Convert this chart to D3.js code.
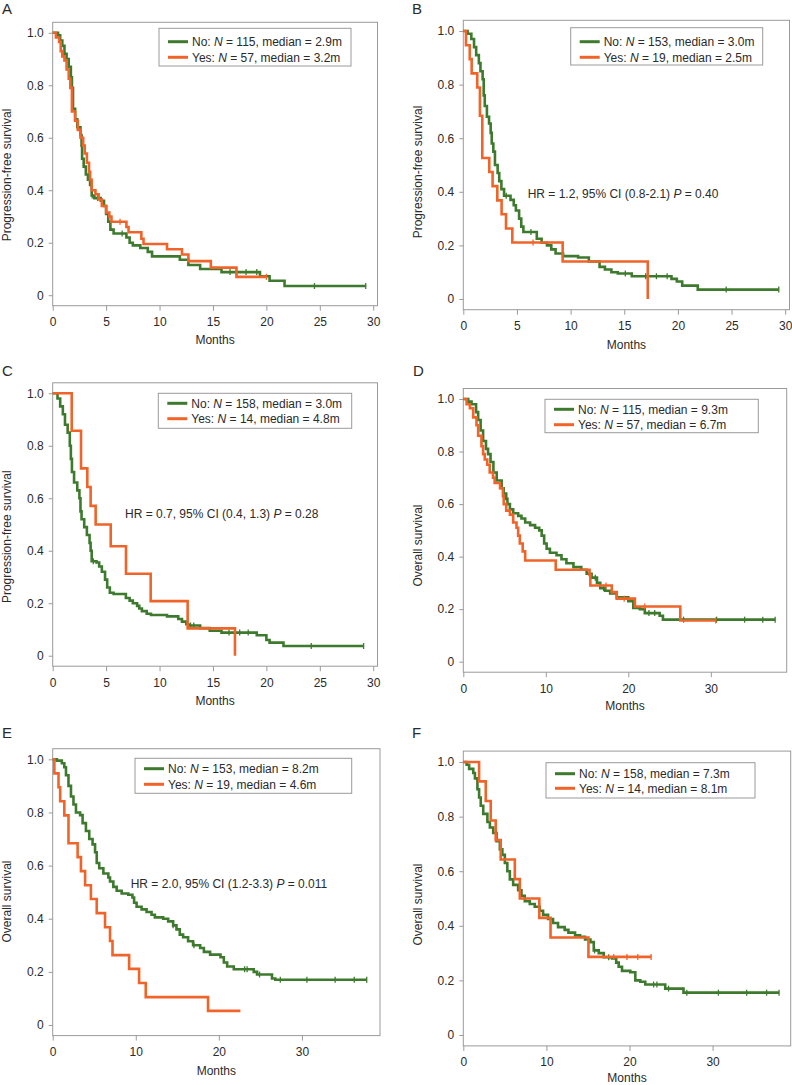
<!DOCTYPE html>
<html><head><meta charset="utf-8">
<script src="https://cdn.jsdelivr.net/npm/d3@7"></script>
<style>
body{margin:0;background:#fff}
svg{display:block}
text{font-family:"Liberation Sans",Arial,Helvetica,sans-serif;fill:#2a2a2a}
</style>
</head><body>
<svg id="chart" width="792" height="1085"></svg>
<script>
// ---------------- DATA ----------------
const panelIds = ["A","B","C","D","E","F"];
const yLabels = ["Progression-free survival","Progression-free survival","Progression-free survival","Overall survival","Overall survival","Overall survival"];
const yTickValues = [0,0.2,0.4,0.6,0.8,1.0];
const yTickLabels = ["0","0.2","0.4","0.6","0.8","1.0"];
const xTicksPFS = [0,5,10,15,20,25,30];
const xTicksOS = [0,10,20,30];
const xTitle = "Months";
const groupNames = ["No","Yes"];
const nNo = [115,153,158,115,153,158];
const nYes = [57,19,14,57,19,14];
const medNo = ["2.9","3.0","3.0","9.3","8.2","7.3"];
const medYes = ["3.2","2.5","4.8","6.7","4.6","8.1"];
const hrB = ["HR = 1.2, 95% CI (0.8-2.1) ","P"," = 0.40"];
const hrC = ["HR = 0.7, 95% CI (0.4, 1.3) ","P"," = 0.28"];
const hrE = ["HR = 2.0, 95% CI (1.2-3.3) ","P"," = 0.011"];

// Panel A
const aNoT = [0,0.5,0.7,0.9,1.1,1.3,1.5,1.7,1.8,1.9,2.1,2.3,2.6,2.7,2.75,2.9,3.1,3.3,3.5,3.65,3.9,4.5,4.8,5.0,5.2,5.4,5.7,6.9,7.2,7.5,8.2,8.9,9.3,11.9,12.7,13.8,15.8,19.4,20.3,21.7,29.3];
const aNoS = [1,0.99,0.97,0.95,0.92,0.9,0.87,0.83,0.79,0.71,0.67,0.64,0.61,0.57,0.52,0.49,0.46,0.44,0.42,0.38,0.37,0.36,0.34,0.31,0.28,0.25,0.235,0.22,0.2,0.19,0.18,0.165,0.148,0.135,0.115,0.1,0.088,0.072,0.055,0.035,0.035];
const aNoCens = [3.7,4.2,6.5,16.6,17.2,18.1,19.1,24.5,29.3];
const aYesT = [0,0.3,0.6,0.75,0.9,1.1,1.3,1.5,1.65,1.8,2.1,2.35,2.6,2.85,3.0,3.2,3.4,3.5,3.65,4.0,4.3,4.6,5.0,5.3,5.5,6.9,7.1,8.3,8.5,10.7,12.1,12.7,14.8,17.2,20.0];
const aYesS = [1,0.982,0.965,0.93,0.91,0.895,0.86,0.825,0.79,0.7,0.665,0.63,0.6,0.57,0.54,0.505,0.47,0.44,0.4,0.385,0.365,0.34,0.315,0.3,0.28,0.26,0.24,0.215,0.195,0.175,0.155,0.13,0.105,0.07,0.07];
const aYesCens = [6.3,20.0];

// Panel B
const bNoT = [0,0.4,0.75,1.0,1.2,1.45,1.6,1.8,1.9,2.0,2.2,2.4,2.55,2.65,2.8,2.95,3.2,3.35,3.55,3.8,4.4,4.7,4.9,5.2,5.4,5.6,6.85,7.3,7.8,8.2,8.6,9.3,10.7,11.7,12.7,13.2,13.8,14.4,15.7,19.4,19.9,20.4,21.85,29.4];
const bNoS = [1,0.99,0.97,0.94,0.91,0.88,0.85,0.82,0.76,0.72,0.68,0.655,0.62,0.58,0.55,0.5,0.47,0.44,0.41,0.385,0.37,0.35,0.33,0.3,0.27,0.25,0.225,0.21,0.2,0.185,0.17,0.16,0.155,0.14,0.12,0.11,0.1,0.095,0.085,0.075,0.065,0.05,0.035,0.035];
const bNoCens = [4.0,6.3,15.1,17.0,18.0,19.0,24.5,29.4];
const bYesT = [0,0.25,0.6,0.78,1.3,1.55,1.77,2.42,2.73,3.17,3.57,3.98,4.57,9.26,17.19];
const bYesS = [1,0.947,0.895,0.842,0.789,0.684,0.526,0.474,0.421,0.368,0.316,0.263,0.211,0.14,0];
const bYesCens = [6.5];

// Panel C
const cNoT = [0,0.45,0.7,0.95,1.15,1.4,1.6,1.7,1.8,2.0,2.3,2.5,2.6,2.7,2.95,3.2,3.45,3.55,3.65,4.1,4.35,4.6,4.9,5.1,5.35,5.7,6.85,7.2,7.5,7.9,8.1,8.35,8.8,9.2,10.7,11.75,12.1,12.5,12.7,13.8,14.7,15.8,19.1,20.0,20.3,21.6,29.1];
const cNoS = [1,0.98,0.95,0.92,0.88,0.85,0.8,0.75,0.7,0.66,0.63,0.6,0.55,0.52,0.49,0.46,0.43,0.4,0.36,0.355,0.34,0.32,0.29,0.26,0.24,0.235,0.22,0.21,0.2,0.19,0.18,0.17,0.16,0.155,0.15,0.14,0.13,0.12,0.115,0.105,0.095,0.088,0.078,0.06,0.05,0.037,0.037];
const cNoCens = [3.8,12.9,13.2,16.5,17.5,18.3,24.2,29.1];
const cYesT = [0,1.78,2.65,3.24,3.55,4.02,5.43,6.86,9.17,12.63,17.06];
const cYesS = [1,0.857,0.714,0.643,0.571,0.5,0.417,0.3125,0.208,0.104,0];
const cYesCens = [];

// Panel D
const dNoT = [0,0.6,1.0,1.55,1.8,2.1,2.4,2.75,3.0,3.3,3.65,4.05,4.65,4.9,5.2,5.35,5.65,6.05,6.65,7.05,7.5,8.1,8.7,9.2,9.5,9.8,10.1,10.5,11.3,11.9,12.5,13.35,14.3,14.95,15.55,16.2,16.6,17.2,17.8,18.6,20.0,20.6,21.4,22.0,23.8,24.2,37.8];
const dNoS = [1,0.99,0.98,0.95,0.92,0.88,0.84,0.81,0.79,0.76,0.72,0.69,0.66,0.64,0.62,0.6,0.58,0.565,0.555,0.545,0.53,0.52,0.51,0.5,0.48,0.45,0.43,0.415,0.405,0.39,0.375,0.36,0.35,0.335,0.32,0.3,0.28,0.27,0.26,0.245,0.23,0.205,0.2,0.185,0.175,0.16,0.16];
const dNoCens = [16.0,17.0,22.5,23.2,26.7,30.7,34.1,36.3,37.8];
const dYesT = [0,0.4,0.8,1.2,1.6,1.8,2.2,2.4,2.6,2.9,3.2,3.6,3.8,4.45,4.8,4.9,5.2,5.65,6.05,6.45,6.65,6.85,7.2,7.5,11.2,15.3,15.4,18.0,18.6,20.8,26.3,30.6];
const dYesS = [1,0.98,0.965,0.93,0.9,0.86,0.82,0.79,0.77,0.75,0.72,0.7,0.68,0.66,0.63,0.6,0.575,0.56,0.53,0.51,0.48,0.45,0.42,0.385,0.35,0.33,0.29,0.265,0.24,0.21,0.157,0.157];
const dYesCens = [17.3,19.5,22.0,30.6];

// Panel E
const eNoT = [0,0.5,1.1,1.4,1.6,1.9,2.2,2.5,2.8,3.3,3.6,4.0,4.4,4.8,5.1,5.3,5.6,6.1,6.7,6.9,7.3,7.7,8.3,9.1,9.6,9.8,10.1,10.7,11.3,11.9,12.3,13.3,13.9,14.5,14.9,15.3,15.7,16.3,16.9,17.75,18.2,18.95,20.2,20.6,21.0,21.8,24.2,24.6,26.4,26.8,37.8];
const eNoS = [1,0.995,0.985,0.97,0.94,0.9,0.86,0.83,0.8,0.79,0.76,0.73,0.7,0.68,0.65,0.61,0.59,0.57,0.555,0.54,0.52,0.505,0.495,0.49,0.48,0.46,0.445,0.435,0.425,0.415,0.405,0.4,0.39,0.375,0.36,0.34,0.33,0.315,0.3,0.29,0.275,0.265,0.255,0.235,0.22,0.21,0.2,0.19,0.175,0.17,0.17];
const eNoCens = [14.5,17.0,23.1,23.4,24.9,27.4,30.6,34.0,36.3,37.8];
const eYesT = [0,0.2,0.7,0.9,1.4,1.9,3.0,3.4,3.9,4.6,5.3,6.3,6.9,7.2,9.2,10.4,11.2,18.7,22.6];
const eYesS = [1,0.947,0.895,0.842,0.789,0.684,0.632,0.579,0.526,0.474,0.421,0.368,0.316,0.263,0.211,0.158,0.105,0.053,0.053];
const eYesCens = [];

// Panel F
const fNoT = [0,0.4,0.7,1.2,1.4,1.7,1.9,2.1,2.4,2.9,3.2,3.6,4.0,4.4,4.7,5.0,5.3,5.6,6.0,6.6,7.0,7.4,8.0,8.6,9.2,9.6,10.2,10.8,11.4,12.2,12.65,13.45,14.05,14.65,15.3,15.7,16.3,16.9,17.9,18.4,18.7,19.1,20.1,20.7,21.3,21.9,24.3,26.5,38.0];
const fNoS = [1,0.99,0.975,0.96,0.94,0.9,0.87,0.84,0.81,0.78,0.76,0.74,0.71,0.68,0.66,0.63,0.6,0.57,0.55,0.53,0.51,0.49,0.48,0.47,0.455,0.44,0.425,0.41,0.395,0.385,0.375,0.365,0.36,0.35,0.34,0.31,0.3,0.285,0.28,0.265,0.25,0.235,0.23,0.2,0.195,0.185,0.17,0.155,0.155];
const fNoCens = [15.8,17.5,22.9,23.3,24.7,26.9,30.7,34.1,36.5,38.0];
const fYesT = [0,1.9,2.7,3.3,3.9,4.5,6.2,6.8,9.15,10.5,15.06,22.6];
const fYesS = [1,0.929,0.857,0.786,0.714,0.643,0.571,0.5,0.429,0.357,0.286,0.286];
const fYesCens = [18.1,19.7,21.0,22.6];

// ---------------- LAYOUT ----------------
const layout = [
  {left:52.7, top:22.3, right:377.5, bottom:305.7, xMax:30.4, ticks:xTicksPFS, lx:2, ly:13.5, ylx:7, yly:175, mty:344,
   leg:{x:159,y:28.3,w:192,h:37.7,r1:13.4,r2:29}, hr:null},
  {left:463.3, top:20.3, right:789.5, bottom:309.7, xMax:30.4, ticks:xTicksPFS, lx:412, ly:13.5, ylx:418, yly:172, mty:349,
   leg:{x:570.7,y:27.7,w:192,h:37.3,r1:14,r2:29.6}, hr:{x:527.7,y:197.5,t:hrB}},
  {left:52.7, top:382.8, right:377.5, bottom:666.2, xMax:30.4, ticks:xTicksPFS, lx:2, ly:375.5, ylx:7, yly:536.7, mty:704.5,
   leg:{x:158.3,y:393.3,w:193.4,h:35,r1:10,r2:25.4}, hr:{x:125,y:518,t:hrC}},
  {left:463.3, top:388.5, right:786.7, bottom:672.2, xMax:39.2, ticks:xTicksOS, lx:413, ly:375.5, ylx:418.3, yly:545.5, mty:710,
   leg:{x:545,y:399.3,w:213.3,h:33.4,r1:10,r2:25.4}, hr:null},
  {left:52.7, top:748.7, right:380, bottom:1035.6, xMax:39.4, ticks:xTicksOS, lx:2, ly:738, ylx:6.7, yly:901.5, mty:1074.5,
   leg:{x:135,y:758.3,w:216.7,h:35,r1:10.4,r2:26}, hr:{x:130.7,y:887.5,t:hrE}},
  {left:463.3, top:751.1, right:790.7, bottom:1045.9, xMax:39.4, ticks:xTicksOS, lx:412, ly:738, ylx:417.7, yly:904.5, mty:1082,
   leg:{x:546,y:762.7,w:209,h:35.3,r1:11,r2:25.6}, hr:null}
];

const curves = [
  [[aNoT,aNoS,aNoCens],[aYesT,aYesS,aYesCens]],
  [[bNoT,bNoS,bNoCens],[bYesT,bYesS,bYesCens]],
  [[cNoT,cNoS,cNoCens],[cYesT,cYesS,cYesCens]],
  [[dNoT,dNoS,dNoCens],[dYesT,dYesS,dYesCens]],
  [[eNoT,eNoS,eNoCens],[eYesT,eYesS,eYesCens]],
  [[fNoT,fNoS,fNoCens],[fYesT,fYesS,fYesCens]]
];
const colors = ["#3d7a2d","#f0642a"];
const frameColor = "#9a9a9a";

const svg = d3.select("#chart");

layout.forEach((p, i) => {
  const g = svg.append("g");
  const x = d3.scaleLinear().domain([0, p.xMax]).range([p.left, p.right]);
  const y = d3.scaleLinear().domain([-0.04, 1.04]).range([p.bottom, p.top]);

  // panel letter
  g.append("text").attr("x", p.lx).attr("y", p.ly).attr("font-size", 15).text(panelIds[i]);

  // frame
  g.append("rect").attr("x", p.left).attr("y", p.top)
    .attr("width", p.right - p.left).attr("height", p.bottom - p.top)
    .attr("fill", "none").attr("stroke", frameColor).attr("stroke-width", 1);

  // y axis
  const ya = g.append("g").attr("transform", `translate(${p.left},0)`)
    .call(d3.axisLeft(y).tickValues(yTickValues).tickFormat((d, k) => yTickLabels[k]).tickSize(4).tickPadding(5));
  ya.select(".domain").remove();
  ya.selectAll(".tick line").attr("stroke", frameColor);
  ya.selectAll(".tick text").attr("font-size", 12).attr("fill", "#2a2a2a")
    .attr("font-family", '"Liberation Sans",Arial,sans-serif');

  // x axis
  const xa = g.append("g").attr("transform", `translate(0,${p.bottom})`)
    .call(d3.axisBottom(x).tickValues(p.ticks).tickFormat(d3.format("d")).tickSize(5).tickPadding(7));
  xa.select(".domain").remove();
  xa.selectAll(".tick line").attr("stroke", frameColor);
  xa.selectAll(".tick text").attr("font-size", 12).attr("fill", "#2a2a2a")
    .attr("font-family", '"Liberation Sans",Arial,sans-serif');

  // axis titles
  g.append("text").attr("x", (p.left + p.right) / 2).attr("y", p.mty)
    .attr("text-anchor", "middle").attr("font-size", 12).text(xTitle);
  g.append("text").attr("transform", `translate(${p.ylx},${p.yly}) rotate(-90)`)
    .attr("text-anchor", "middle").attr("dominant-baseline", "central")
    .attr("font-size", 12).text(yLabels[i]);

  // curves
  const line = d3.line().x(d => x(d[0])).y(d => y(d[1])).curve(d3.curveStepAfter);
  curves[i].forEach((c, k) => {
    const [T, S, C] = c;
    g.append("path").datum(d3.zip(T, S)).attr("d", line)
      .attr("fill", "none").attr("stroke", colors[k]).attr("stroke-width", 2.6)
      .attr("stroke-linejoin", "miter");
    C.forEach(t => {
      const idx = Math.max(0, d3.bisectRight(T, t) - 1);
      const s = S[idx];
      g.append("line").attr("x1", x(t)).attr("x2", x(t))
        .attr("y1", y(s) - 3).attr("y2", y(s) + 3)
        .attr("stroke", colors[k]).attr("stroke-width", 1.3);
    });
  });

  // legend
  const L = p.leg;
  g.append("rect").attr("x", L.x).attr("y", L.y).attr("width", L.w).attr("height", L.h)
    .attr("fill", "#fff").attr("stroke", frameColor).attr("stroke-width", 1);
  const rows = [[groupNames[0], nNo[i], medNo[i]], [groupNames[1], nYes[i], medYes[i]]];
  rows.forEach((r, k) => {
    const ry = L.y + (k === 0 ? L.r1 : L.r2);
    g.append("line").attr("x1", L.x + 9).attr("x2", L.x + 29).attr("y1", ry).attr("y2", ry)
      .attr("stroke", colors[k]).attr("stroke-width", 3);
    const t = g.append("text").attr("x", L.x + 33).attr("y", ry + 4.3).attr("font-size", 12);
    t.append("tspan").text(r[0] + ": ");
    t.append("tspan").attr("font-style", "italic").text("N");
    t.append("tspan").text(" = " + r[1] + ", median = " + r[2] + "m");
  });

  // HR annotation
  if (p.hr) {
    const t = g.append("text").attr("x", p.hr.x).attr("y", p.hr.y).attr("font-size", 12);
    t.append("tspan").text(p.hr.t[0]);
    t.append("tspan").attr("font-style", "italic").text(p.hr.t[1]);
    t.append("tspan").text(p.hr.t[2]);
  }
});
</script>
</body></html>
